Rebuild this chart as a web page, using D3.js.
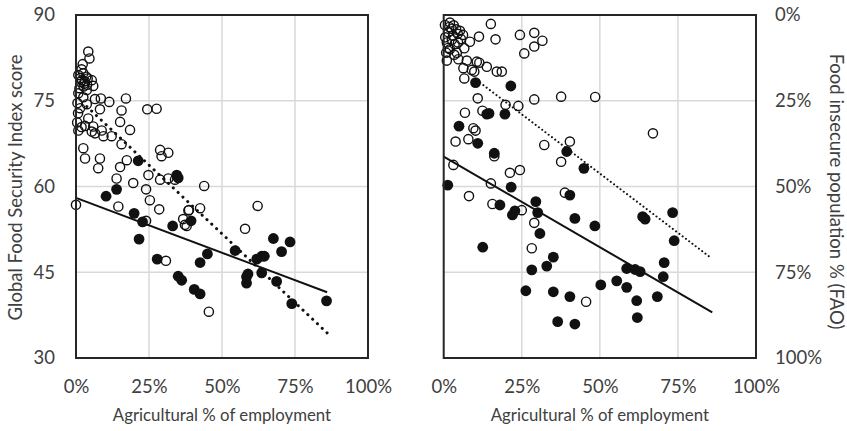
<!DOCTYPE html>
<html>
<head>
<meta charset="utf-8">
<script src="https://cdn.jsdelivr.net/npm/d3@7"></script>
<style>
  html, body { margin: 0; padding: 0; background: #fff; }
  svg text { font-family: Lato, "Open Sans", sans-serif; fill: #404040; }
</style>
</head>
<body>
<svg id="chart" width="847" height="431"></svg>
<script>
// Agricultural share of employment (x, %) vs Global Food Security Index score
const gfsiOpen = [
  [4.2,83.6],[4.6,82.4],[2.3,81.4],[1.9,80.5],[2.5,79.8],[0.8,79.5],[3.5,79.2],[5.4,78.6],[1.5,78.3],[2.8,78.0],
  [3.8,77.8],[1.2,77.2],[5.9,77.6],[3.7,76.9],[0.8,76.3],[2.5,75.6],[6.5,75.3],[8.5,75.4],[11.4,74.8],[17.1,75.4],
  [3.7,74.4],[1.4,73.7],[8.2,73.5],[15.6,73.3],[24.4,73.5],[27.6,73.6],[4.2,71.9],[15.1,71.3],[3.1,70.6],[1.9,70.4],
  [5.9,70.5],[5.4,69.6],[6.5,69.3],[8.8,69.8],[9.4,68.8],[12.2,68.8],[18.5,69.9],[0.8,69.8],[15.6,67.4],[2.5,66.7],
  [28.8,66.4],[29.3,65.3],[31.6,65.9],[3.1,64.9],[8.2,64.9],[17.4,64.6],[7.6,63.2],[15.1,63.4],[24.8,62.0],[13.9,61.4],
  [28.8,61.2],[31.6,61.4],[33.9,61.2],[19.6,60.6],[24.0,59.5],[0.0,56.8],[25.3,57.6],[14.5,56.5],[28.5,56.0],[24.0,54.0],
  [36.7,54.3],[37.3,53.3],[38.5,55.8],[30.8,47.0],[43.9,60.1],[38.7,55.9],[42.5,56.2],[37.9,53.1],[62.2,56.6],[57.9,52.6],
  [45.5,38.1],[2.0,78.6],[3.0,78.4],[2.6,77.5],[4.0,78.9],[1.6,79.0],[0.5,74.6],[0.7,72.8],[0.4,71.2]
];
const gfsiFilled = [
  [21.3,64.5],[34.5,62.0],[35.0,61.5],[10.3,58.3],[13.9,59.5],[19.9,55.3],[22.8,53.8],[33.1,53.1],[21.6,50.8],[27.8,47.3],
  [35.0,44.3],[36.2,43.6],[39.4,54.0],[67.6,50.9],[73.3,50.3],[54.5,48.8],[70.4,48.6],[45.0,48.2],[42.5,46.7],[61.9,47.3],
  [63.6,47.8],[64.5,47.8],[58.9,44.7],[58.4,44.2],[58.4,43.1],[63.6,44.9],[68.7,43.4],[40.5,42.0],[42.5,41.2],[73.9,39.5],
  [85.8,40.0]
];
const gfsiTrendAll = [[3.7,74.0],[86,34.4]];
const gfsiTrendFilled = [[0,58.0],[86,41.5]];

// Agricultural share of employment (x, %) vs food insecure population (y, %, FAO)
const faoOpen = [
  [2,2.2],[0.4,2.9],[15.1,2.6],[11.3,6.3],[16.6,7.1],[24.4,5.8],[29,5.2],[31.6,7.5],[29,9.2],[25.8,11.2],
  [8.4,7.8],[6.6,9.7],[4.2,11],[1,13.3],[4.7,12.9],[7.4,13.3],[10.6,13.6],[11.4,13.9],[13.8,15.1],[6.3,15.5],
  [9,16],[9.8,16.5],[17,16.5],[18.6,16.5],[6.6,18.5],[10.9,24.3],[29,24.6],[37.6,23.8],[19.8,26.2],[23.9,26.5],
  [6.8,28.5],[12.4,27.9],[9.5,33],[10.2,33.7],[3.8,36.9],[7.9,36.2],[16.2,41.2],[32.2,37.9],[40.4,36.9],[37.6,42.8],
  [3.1,43.7],[21.2,46],[24.4,45.2],[15.1,49.1],[8.1,52.8],[15.6,55.1],[25,56.9],[38.8,51.8],[29,60.6],[28.2,68],
  [45.6,83.6],[1.5,5],[3,6],[2.5,4],[4.5,5.5],[1,8],[3.5,8.5],[2,10],[5.5,7],[0.5,6.5],
  [1.8,3.5],[3.2,3.0],[4.0,4.2],[5.2,4.6],[6.2,5.8],[2.6,7.2],[4.6,8.0],[1.4,9.6],[3.4,11.6],[0.8,11.0],
  [48.5,23.9],[67.0,34.5]
];
const faoFilled = [
  [10.2,19.7],[21.5,20.7],[13.8,28.9],[14.5,28.7],[19.6,28.9],[4.9,32.4],[10.9,37.4],[16.2,40.3],[39.4,39.8],[1.3,49.6],
  [21.6,50.2],[18,55.4],[22,58.3],[22.8,57.1],[29.5,54.4],[30.1,57.6],[40.4,52.5],[42,59.3],[30.8,63.7],[12.5,67.7],
  [35.1,70.6],[33,73.2],[28.2,74.3],[26.3,80.4],[35.1,80.7],[40.4,82.1],[36.5,89.4],[42,90.1],[44.9,44.7],[48.4,61.5],
  [63.7,58.8],[64.5,59.5],[73.3,57.6],[73.8,65.8],[70.6,72.2],[58.6,73.9],[61.3,74.2],[62.9,74.8],[70.3,76.3],[50.3,78.7],
  [55.4,77.5],[58.6,79.4],[68.4,82.1],[61.8,83.3],[62,88.2]
];
const faoTrendAll = [[10.6,19.0],[85.3,70.6]];
const faoTrendFilled = [[0,41.3],[86,86.7]];

const xTicks = [0, 25, 50, 75, 100];
const gfsiTicks = [30, 45, 60, 75, 90];
const faoTicks = [0, 25, 50, 75, 100];
const xTitle = "Agricultural % of employment";
const gfsiTitle = "Global Food Security Index score";
const faoTitle = "Food insecure population % (FAO)";

const svg = d3.select("#chart");
const pct = d => d + "%";
const TICK_FS = 18.5, XT_FS = 16.8, YT_FS = 18.5;

function panel(cfg) {
  const g = svg.append("g");
  const x = cfg.x, y = cfg.y;
  const [x0, x1] = x.range();
  const [yb, yt] = [Math.max(...y.range()), Math.min(...y.range())];

  // gridlines
  g.append("g").selectAll("line.v").data(xTicks.slice(1, -1)).join("line")
    .attr("x1", d => x(d)).attr("x2", d => x(d)).attr("y1", yt).attr("y2", yb)
    .attr("stroke", "#d9d9d9").attr("stroke-width", 1.5);
  g.append("g").selectAll("line.h").data(cfg.yTicks.slice(1, -1)).join("line")
    .attr("x1", x0).attr("x2", x1).attr("y1", d => y(d)).attr("y2", d => y(d))
    .attr("stroke", "#d9d9d9").attr("stroke-width", 1.5);

  // trend lines
  const line = d3.line().x(d => x(d[0])).y(d => y(d[1]));
  g.append("path").datum(cfg.trendAll).attr("d", line)
    .attr("fill", "none").attr("stroke", "#111").attr("stroke-width", cfg.dotW)
    .attr("stroke-dasharray", cfg.dash).attr("stroke-linecap", "round");
  g.append("path").datum(cfg.trendFilled).attr("d", line)
    .attr("fill", "none").attr("stroke", "#111").attr("stroke-width", 2);

  // points
  g.append("g").selectAll("circle").data(cfg.open).join("circle")
    .attr("cx", d => x(d[0])).attr("cy", d => y(d[1])).attr("r", 4.6)
    .attr("fill", "none").attr("stroke", "#111").attr("stroke-width", 1.4);
  g.append("g").selectAll("circle").data(cfg.filled).join("circle")
    .attr("cx", d => x(d[0])).attr("cy", d => y(d[1])).attr("r", 5.4)
    .attr("fill", "#111");

  // frame
  g.append("rect").attr("x", x0).attr("y", yt).attr("width", x1 - x0).attr("height", yb - yt)
    .attr("fill", "none").attr("stroke", "#262626").attr("stroke-width", 2);

  // x axis labels
  const xa = d3.axisBottom(x).tickValues(xTicks).tickFormat(pct).tickSize(0).tickPadding(22);
  const xg = g.append("g").attr("transform", `translate(0,${yb})`).call(xa);
  xg.select(".domain").remove();
  xg.selectAll("text").attr("font-size", TICK_FS).style("font-family", null);

  g.append("text").attr("x", (x0 + x1) / 2).attr("y", 421).attr("text-anchor", "middle")
    .attr("font-size", XT_FS).text(xTitle);
}

const xL = d3.scaleLinear().domain([0, 100]).range([76, 368]);
const yL = d3.scaleLinear().domain([30, 90]).range([358, 15]);
const xR = d3.scaleLinear().domain([0, 100]).range([443.7, 756]);
const yR = d3.scaleLinear().domain([0, 100]).range([15, 358]);

panel({ x: xL, y: yL, yTicks: gfsiTicks, open: gfsiOpen, filled: gfsiFilled,
        trendAll: gfsiTrendAll, trendFilled: gfsiTrendFilled, dash: "0.1 6.5", dotW: 3 });
panel({ x: xR, y: yR, yTicks: faoTicks, open: faoOpen, filled: faoFilled,
        trendAll: faoTrendAll, trendFilled: faoTrendFilled, dash: "0.1 4", dotW: 2 });

// left y axis
const ya = svg.append("g").attr("transform", "translate(76,0)")
  .call(d3.axisLeft(yL).tickValues(gfsiTicks).tickSize(0).tickPadding(21));
ya.select(".domain").remove();
ya.selectAll("text").attr("font-size", TICK_FS).style("font-family", null);
svg.append("text").attr("transform", "translate(22,187.5) rotate(-90)")
  .attr("text-anchor", "middle").attr("font-size", YT_FS).text(gfsiTitle);

// right y axis
const yra = svg.append("g").attr("transform", "translate(756,0)")
  .call(d3.axisRight(yR).tickValues(faoTicks).tickFormat(pct).tickSize(0).tickPadding(19));
yra.select(".domain").remove();
yra.selectAll("text").attr("font-size", TICK_FS).style("font-family", null);
svg.append("text").attr("transform", "translate(830,191.5) rotate(90)")
  .attr("text-anchor", "middle").attr("font-size", YT_FS).text(faoTitle);
</script>
</body>
</html>
